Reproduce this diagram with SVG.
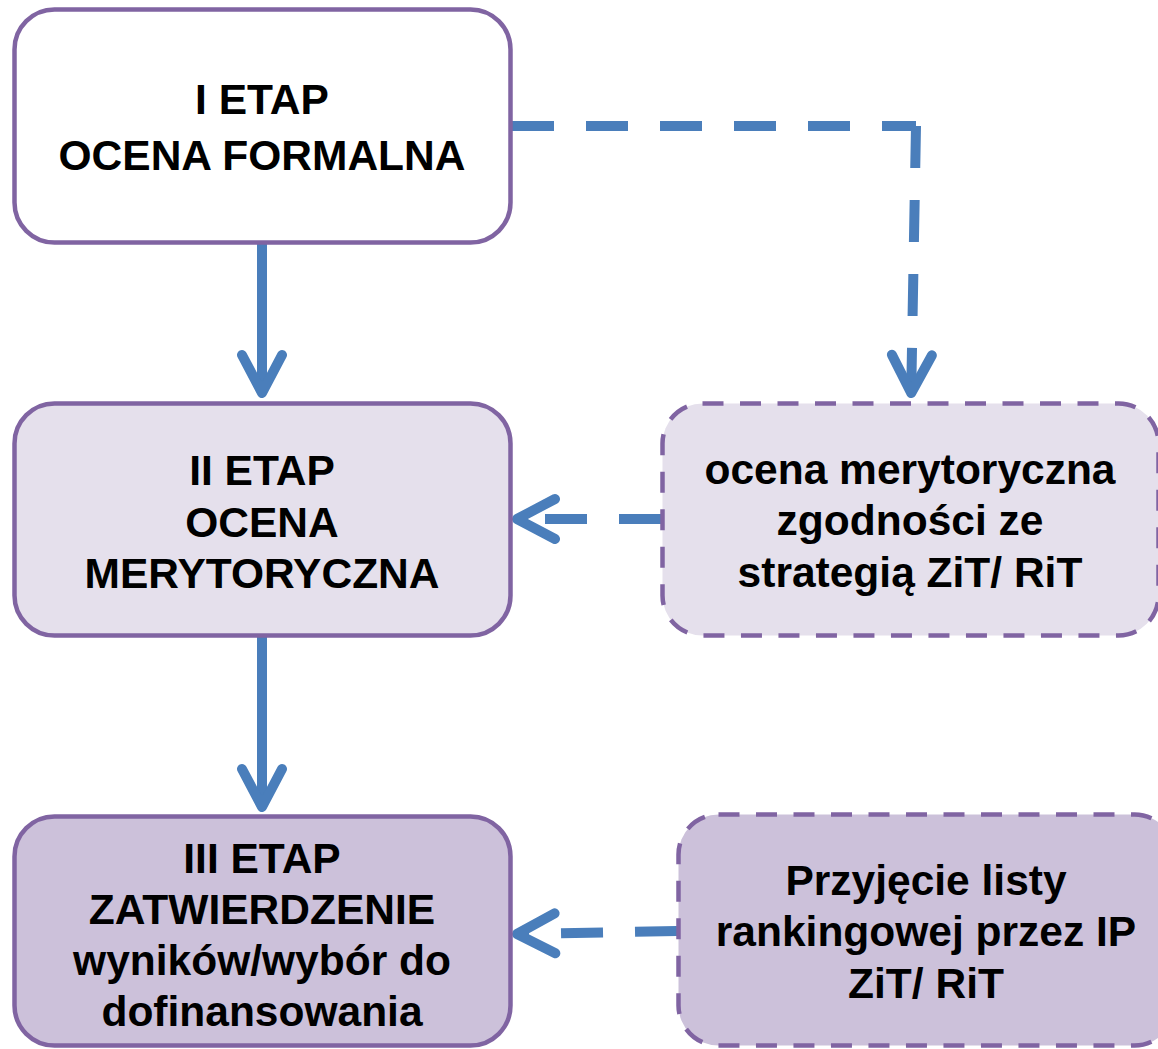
<svg xmlns="http://www.w3.org/2000/svg" width="1158" height="1049" viewBox="0 0 1158 1049">
<style>
.box{stroke:#8064A2;stroke-width:4.5}
.dash{stroke-dasharray:21 16.5}
.w{fill:#FFFFFF}
.l1{fill:#E5E0EC}
.l2{fill:#CCC1DA}
text{font-family:"Liberation Sans",Arial,sans-serif;font-weight:bold;font-size:42.5px;fill:#000;text-anchor:middle}
.c{fill:none;stroke:#4A7EBB;stroke-width:10}
.cd{stroke-dasharray:42 32}
</style>
<defs>
<marker id="arr" markerUnits="userSpaceOnUse" viewBox="-50 -30 60 60" markerWidth="60" markerHeight="60" refX="0" refY="0" orient="auto" overflow="visible">
<path d="M-38,-20 L0,0 L-38,20" fill="none" stroke="#4A7EBB" stroke-width="10" stroke-linecap="round" stroke-linejoin="round"/>
</marker>
</defs>
<g id="connectors">
<path class="c" d="M262,244 V393" marker-end="url(#arr)"/>
<path class="c" d="M262,637 V807" marker-end="url(#arr)"/>
<path class="c cd" d="M512,126 H916"/>
<path class="c cd" d="M916,126 L911.2,393" marker-end="url(#arr)"/>
<path class="c cd" d="M661,519 H517" marker-end="url(#arr)"/>
<path class="c cd" d="M677,931 L517,934" marker-end="url(#arr)"/>
</g>
<g id="etap1">
<rect class="box w" x="14.5" y="9.5" width="496" height="233" rx="40"/>
<text x="262" y="114">I ETAP</text>
<text x="262" y="170">OCENA FORMALNA</text>
</g>
<g id="etap2">
<rect class="box l1" x="14.5" y="403.5" width="496" height="232" rx="40"/>
<text x="262" y="485">II ETAP</text>
<text x="262" y="537">OCENA</text>
<text x="262" y="588">MERYTORYCZNA</text>
</g>
<g id="etap3">
<rect class="box l2" x="14.5" y="816.5" width="496" height="229" rx="40"/>
<text x="262" y="873">III ETAP</text>
<text x="262" y="924">ZATWIERDZENIE</text>
<text x="262" y="975">wyników/wybór do</text>
<text x="262" y="1026">dofinansowania</text>
</g>
<g id="ocena-zit">
<rect class="box dash l1" x="662.5" y="403.5" width="496" height="232" rx="40"/>
<text x="910" y="484">ocena merytoryczna</text>
<text x="910" y="535">zgodności ze</text>
<text x="910" y="587">strategią ZiT/ RiT</text>
</g>
<g id="przyjecie">
<rect class="box dash l2" x="678.5" y="814.5" width="496" height="231" rx="40"/>
<text x="926" y="895">Przyjęcie listy</text>
<text x="926" y="946">rankingowej przez IP</text>
<text x="926" y="998">ZiT/ RiT</text>
</g>
</svg>
